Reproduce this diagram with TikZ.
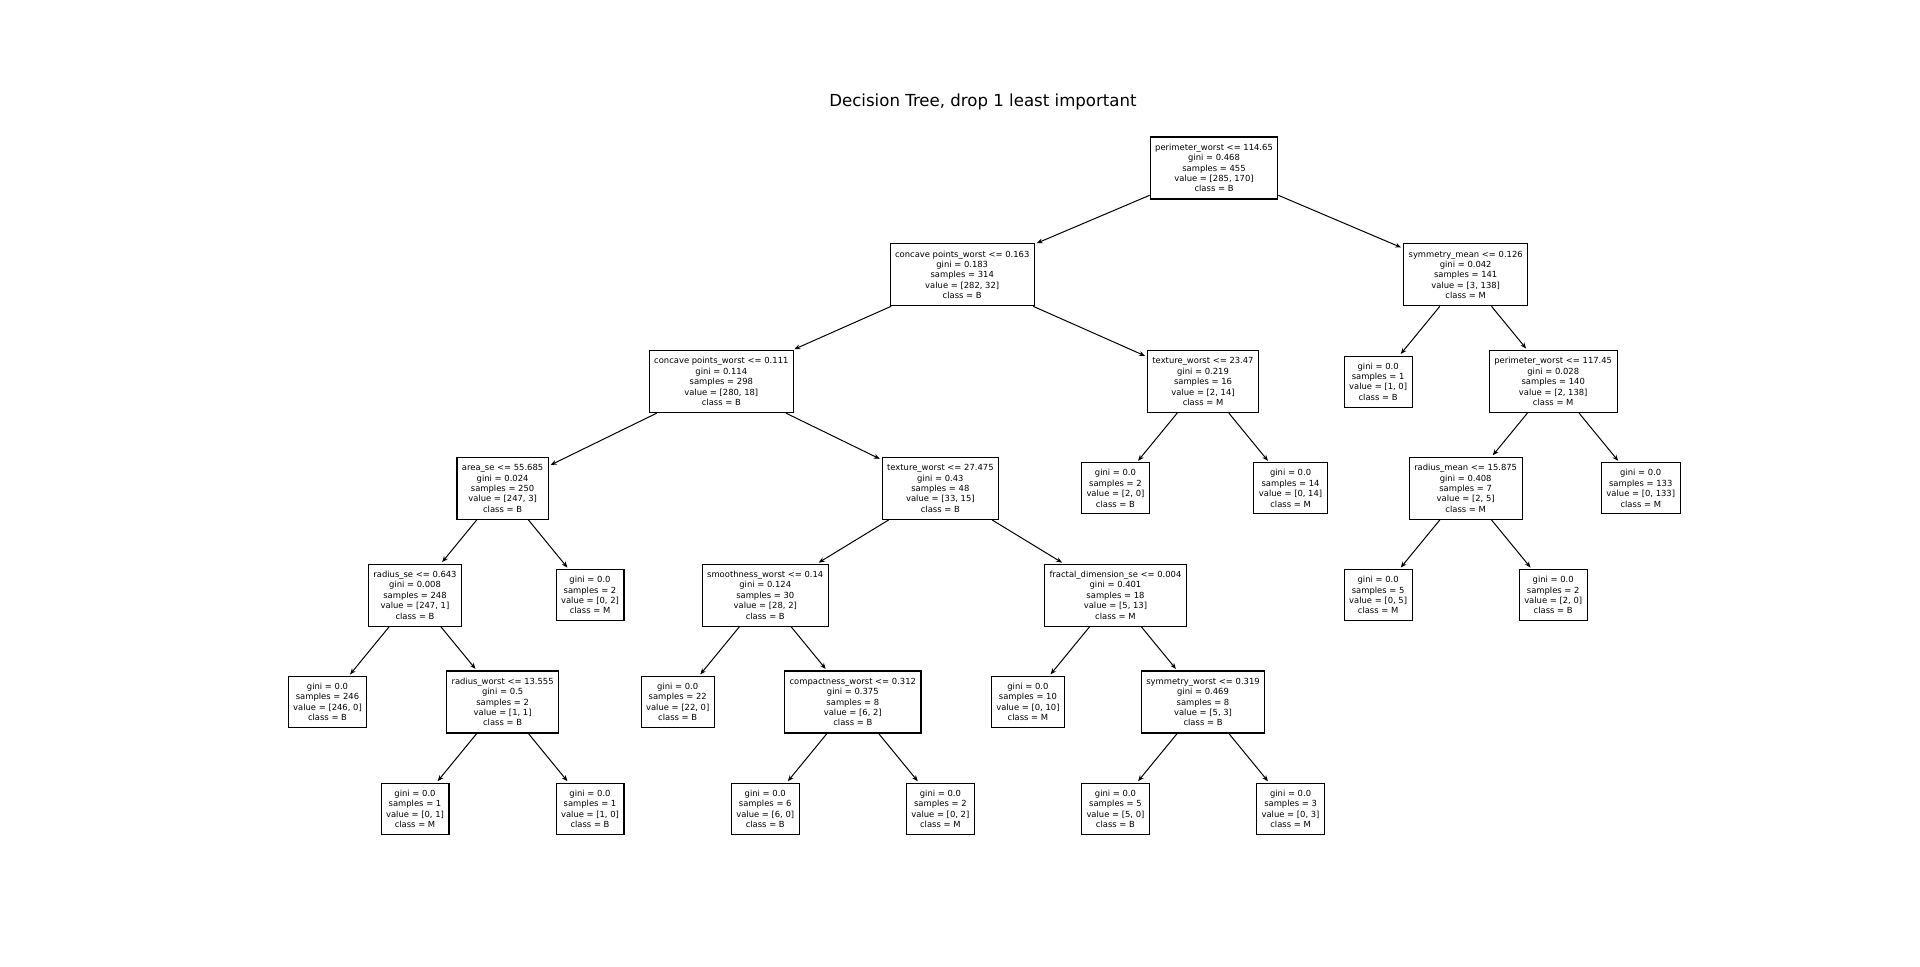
\documentclass[tikz,border=0pt]{standalone}
\usepackage{fontspec}
\setmainfont{DejaVu Sans}
\usetikzlibrary{arrows.meta}

\begin{document}
\begin{tikzpicture}[x=0.5pt,y=-0.5pt,
  box/.style={draw, line width=0.55pt, fill=white, align=center,
    font=\fontsize{4.2}{5.2}\selectfont, inner xsep=2.5pt, inner ysep=1pt},
  split/.style={box, minimum height=31pt},
  leaf/.style={box, minimum height=25.5pt},
  edge/.style={-{Stealth[length=3pt,width=2.4pt]}, line width=0.5pt, shorten >=1pt}
]
\useasboundingbox (0,0) rectangle (1920,967);

\node[font=\fontsize{8.3}{10}\selectfont] (title) at (983,102) {Decision Tree, drop 1 least important};

% depth 0
\node[split] (n0) at (1214,168) {perimeter\_worst <= 114.65\\gini = 0.468\\samples = 455\\value = [285, 170]\\class = B};

% depth 1
\node[split] (n1) at (962.2,274.8) {concave points\_worst <= 0.163\\gini = 0.183\\samples = 314\\value = [282, 32]\\class = B};
\node[split] (n2) at (1465.65,274.8) {symmetry\_mean <= 0.126\\gini = 0.042\\samples = 141\\value = [3, 138]\\class = M};

% depth 2
\node[split] (n3) at (721.3,381.6) {concave points\_worst <= 0.111\\gini = 0.114\\samples = 298\\value = [280, 18]\\class = B};
\node[split] (n4) at (1203,381.6) {texture\_worst <= 23.47\\gini = 0.219\\samples = 16\\value = [2, 14]\\class = M};
\node[leaf]  (n5) at (1378.1,381.6) {gini = 0.0\\samples = 1\\value = [1, 0]\\class = B};
\node[split] (n6) at (1553.2,381.6) {perimeter\_worst <= 117.45\\gini = 0.028\\samples = 140\\value = [2, 138]\\class = M};

% depth 3
\node[split] (n7)  at (502.6,488.4) {area\_se <= 55.685\\gini = 0.024\\samples = 250\\value = [247, 3]\\class = B};
\node[split] (n8)  at (940.35,488.4) {texture\_worst <= 27.475\\gini = 0.43\\samples = 48\\value = [33, 15]\\class = B};
\node[leaf]  (n9)  at (1115.45,488.4) {gini = 0.0\\samples = 2\\value = [2, 0]\\class = B};
\node[leaf]  (n10) at (1290.55,488.4) {gini = 0.0\\samples = 14\\value = [0, 14]\\class = M};
\node[split] (n11) at (1465.65,488.4) {radius\_mean <= 15.875\\gini = 0.408\\samples = 7\\value = [2, 5]\\class = M};
\node[leaf]  (n12) at (1640.75,488.4) {gini = 0.0\\samples = 133\\value = [0, 133]\\class = M};

% depth 4
\node[split] (n13) at (415,595.2) {radius\_se <= 0.643\\gini = 0.008\\samples = 248\\value = [247, 1]\\class = B};
\node[leaf]  (n14) at (590,595.2) {gini = 0.0\\samples = 2\\value = [0, 2]\\class = M};
\node[split] (n15) at (765.25,595.2) {smoothness\_worst <= 0.14\\gini = 0.124\\samples = 30\\value = [28, 2]\\class = B};
\node[split] (n16) at (1115.45,595.2) {fractal\_dimension\_se <= 0.004\\gini = 0.401\\samples = 18\\value = [5, 13]\\class = M};
\node[leaf]  (n17) at (1378.1,595.2) {gini = 0.0\\samples = 5\\value = [0, 5]\\class = M};
\node[leaf]  (n18) at (1553.2,595.2) {gini = 0.0\\samples = 2\\value = [2, 0]\\class = B};

% depth 5
\node[leaf]  (n19) at (327.5,702) {gini = 0.0\\samples = 246\\value = [246, 0]\\class = B};
\node[split] (n20) at (502.6,702) {radius\_worst <= 13.555\\gini = 0.5\\samples = 2\\value = [1, 1]\\class = B};
\node[leaf]  (n21) at (677.7,702) {gini = 0.0\\samples = 22\\value = [22, 0]\\class = B};
\node[split] (n22) at (852.8,702) {compactness\_worst <= 0.312\\gini = 0.375\\samples = 8\\value = [6, 2]\\class = B};
\node[leaf]  (n23) at (1027.9,702) {gini = 0.0\\samples = 10\\value = [0, 10]\\class = M};
\node[split] (n24) at (1203,702) {symmetry\_worst <= 0.319\\gini = 0.469\\samples = 8\\value = [5, 3]\\class = B};

% depth 6
\node[leaf] (n25) at (415,808.8) {gini = 0.0\\samples = 1\\value = [0, 1]\\class = M};
\node[leaf] (n26) at (590,808.8) {gini = 0.0\\samples = 1\\value = [1, 0]\\class = B};
\node[leaf] (n27) at (765.25,808.8) {gini = 0.0\\samples = 6\\value = [6, 0]\\class = B};
\node[leaf] (n28) at (940.35,808.8) {gini = 0.0\\samples = 2\\value = [0, 2]\\class = M};
\node[leaf] (n29) at (1115.45,808.8) {gini = 0.0\\samples = 5\\value = [5, 0]\\class = B};
\node[leaf] (n30) at (1290.55,808.8) {gini = 0.0\\samples = 3\\value = [0, 3]\\class = M};

% branches
\foreach \p/\c in {n0/n1,n0/n2,n1/n3,n1/n4,n2/n5,n2/n6,n3/n7,n3/n8,n4/n9,n4/n10,
  n6/n11,n6/n12,n7/n13,n7/n14,n8/n15,n8/n16,n11/n17,n11/n18,n13/n19,n13/n20,
  n15/n21,n15/n22,n16/n23,n16/n24,n20/n25,n20/n26,n22/n27,n22/n28,n24/n29,n24/n30}
  \draw[edge] (\p) -- (\c);
\end{tikzpicture}
\end{document}
